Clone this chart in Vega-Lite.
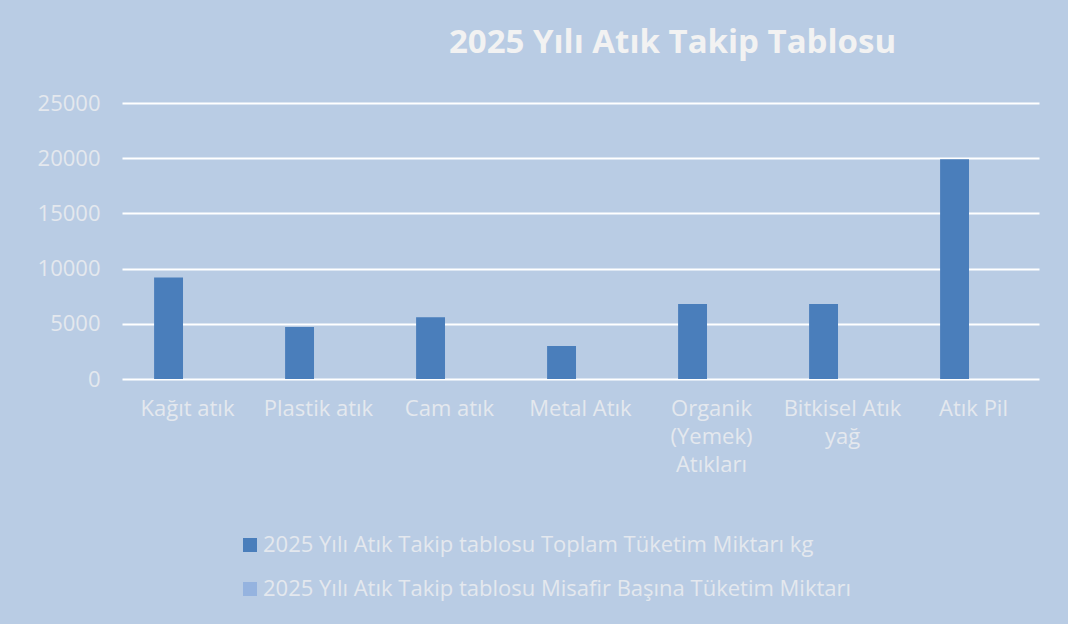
{
  "$schema": "https://vega.github.io/schema/vega-lite/v6.json",
  "autosize": {"type": "none"},
  "padding": {"left": 122, "top": 103, "right": 29, "bottom": 245},
  "width": 917,
  "height": 276,
  "background": "#b9cce4",
  "config": {
    "view": {"stroke": null},
    "font": "Open Sans"
  },
  "title": {
    "text": "2025 Yılı Atık Takip Tablosu",
    "fontSize": 33,
    "fontWeight": "bold",
    "color": "#f2f2f2",
    "anchor": "middle",
    "dx": 92,
    "offset": 32
  },
  "data": {
    "values": [
      {"kategori": "Kağıt atık", "seri": "2025 Yılı Atık Takip tablosu Toplam Tüketim Miktarı kg", "deger": 9200},
      {"kategori": "Plastik atık", "seri": "2025 Yılı Atık Takip tablosu Toplam Tüketim Miktarı kg", "deger": 4700},
      {"kategori": "Cam atık", "seri": "2025 Yılı Atık Takip tablosu Toplam Tüketim Miktarı kg", "deger": 5600},
      {"kategori": "Metal Atık", "seri": "2025 Yılı Atık Takip tablosu Toplam Tüketim Miktarı kg", "deger": 3000},
      {"kategori": "Organik|(Yemek)|Atıkları", "seri": "2025 Yılı Atık Takip tablosu Toplam Tüketim Miktarı kg", "deger": 6800},
      {"kategori": "Bitkisel Atık|yağ", "seri": "2025 Yılı Atık Takip tablosu Toplam Tüketim Miktarı kg", "deger": 6800},
      {"kategori": "Atık Pil", "seri": "2025 Yılı Atık Takip tablosu Toplam Tüketim Miktarı kg", "deger": 19900},
      {"kategori": "Kağıt atık", "seri": "2025 Yılı Atık Takip tablosu Misafir Başına Tüketim Miktarı", "deger": 1},
      {"kategori": "Plastik atık", "seri": "2025 Yılı Atık Takip tablosu Misafir Başına Tüketim Miktarı", "deger": 1},
      {"kategori": "Cam atık", "seri": "2025 Yılı Atık Takip tablosu Misafir Başına Tüketim Miktarı", "deger": 1},
      {"kategori": "Metal Atık", "seri": "2025 Yılı Atık Takip tablosu Misafir Başına Tüketim Miktarı", "deger": 1},
      {"kategori": "Organik|(Yemek)|Atıkları", "seri": "2025 Yılı Atık Takip tablosu Misafir Başına Tüketim Miktarı", "deger": 1},
      {"kategori": "Bitkisel Atık|yağ", "seri": "2025 Yılı Atık Takip tablosu Misafir Başına Tüketim Miktarı", "deger": 1},
      {"kategori": "Atık Pil", "seri": "2025 Yılı Atık Takip tablosu Misafir Başına Tüketim Miktarı", "deger": 2}
    ]
  },
  "mark": {"type": "bar"},
  "encoding": {
    "x": {
      "field": "kategori",
      "type": "nominal",
      "sort": null,
      "scale": {"paddingInner": 0.49, "paddingOuter": 0.245},
      "axis": {
        "title": null,
        "labelAngle": 0,
        "labelExpr": "split(datum.label, '|')",
        "labelFontSize": 22,
        "labelColor": "#e4e8ee",
        "labelLineHeight": 28,
        "labelPadding": 19,
        "labelBaseline": "top",
        "domain": false,
        "ticks": false,
        "grid": false
      }
    },
    "xOffset": {
      "field": "seri",
      "type": "nominal",
      "sort": null,
      "scale": {"paddingInner": 0.237, "paddingOuter": 0}
    },
    "y": {
      "field": "deger",
      "type": "quantitative",
      "scale": {"domain": [0, 25000]},
      "axis": {
        "title": null,
        "values": [0, 5000, 10000, 15000, 20000, 25000],
        "format": "d",
        "labelFontSize": 22,
        "labelColor": "#e4e8ee",
        "labelPadding": 22,
        "domain": false,
        "ticks": false,
        "grid": true,
        "gridColor": "#ffffff",
        "gridWidth": 2,
        "gridOpacity": 1
      }
    },
    "color": {
      "field": "seri",
      "type": "nominal",
      "sort": null,
      "scale": {"range": ["#4a7ebb", "#95b3df"]},
      "legend": {
        "title": null,
        "orient": "none",
        "legendX": 117,
        "legendY": 431,
        "direction": "vertical",
        "symbolType": "square",
        "symbolSize": 196,
        "symbolStrokeWidth": 0,
        "symbolOpacity": 1,
        "labelFontSize": 22,
        "labelColor": "#e4e8ee",
        "labelOffset": 2,
        "rowPadding": 22,
        "labelLimit": 800
      }
    }
  }
}
